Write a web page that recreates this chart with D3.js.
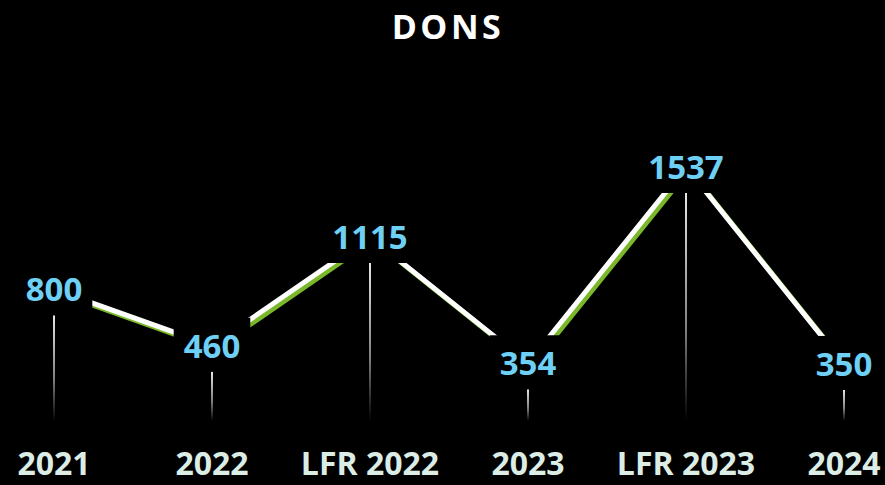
<!DOCTYPE html>
<html>
<head>
<meta charset="utf-8">
<script src="https://cdn.jsdelivr.net/npm/d3@7"></script>
<style>
  html, body { margin: 0; padding: 0; background: #000; }
  svg { display: block; }
</style>
</head>
<body>
<svg id="chart" width="885" height="485"></svg>
<script>
'use strict';

const categories = ['2021', '2022', 'LFR 2022', '2023', 'LFR 2023', '2024'];
const dons = [800, 460, 1115, 354, 1537, 350];

const width = 885;
const height = 485;

const svg = d3.select('#chart');

svg.append('rect')
    .attr('width', width)
    .attr('height', height)
    .attr('fill', '#000');

const x = d3.scalePoint()
    .domain(categories)
    .range([54, 844]);

const y = d3.scaleLinear()
    .domain([0, 1537])
    .range([422, 167]);

const data = categories.map((c, i) => ({ cat: c, value: dons[i] }));

// gradient for drop lines
const grad = svg.append('defs').append('linearGradient')
    .attr('id', 'dropGrad')
    .attr('x1', 0).attr('y1', 0)
    .attr('x2', 0).attr('y2', 1);
grad.append('stop').attr('offset', '0%').attr('stop-color', '#e6e6e6');
grad.append('stop').attr('offset', '60%').attr('stop-color', '#808080');
grad.append('stop').attr('offset', '100%').attr('stop-color', '#000');

// title
svg.append('text')
    .attr('x', 448)
    .attr('y', 39)
    .attr('text-anchor', 'middle')
    .attr('fill', '#fff')
    .style('font-family', '"Open Sans", sans-serif')
    .style('font-weight', 700)
    .style('font-size', '34px')
    .style('letter-spacing', '3.5px')
    .text('DONS');

const line = d3.line()
    .x(d => x(d.cat))
    .y(d => y(d.value));

// green shadow
svg.append('path')
    .datum(data)
    .attr('d', line)
    .attr('transform', 'translate(3,3)')
    .attr('fill', 'none')
    .attr('stroke', '#7ab82a')
    .attr('stroke-width', 5);

svg.append('path')
    .datum(data)
    .attr('d', line)
    .attr('fill', 'none')
    .attr('stroke', '#fff')
    .attr('stroke-width', 5);

// drop lines
svg.selectAll('.drop')
    .data(data).enter().append('rect')
    .attr('class', 'drop')
    .attr('x', d => x(d.cat) - 1)
    .attr('y', d => y(d.value) + 26)
    .attr('width', 2)
    .attr('height', d => y(0) - 1 - (y(d.value) + 26))
    .attr('fill', 'url(#dropGrad)');

// label boxes hide the line behind the values
const labels = svg.selectAll('.lab')
    .data(data).enter().append('g')
    .attr('class', 'lab')
    .attr('transform', d => 'translate(' + x(d.cat) + ',' + y(d.value) + ')');

labels.append('text')
    .attr('text-anchor', 'middle')
    .attr('y', 12)
    .attr('fill', '#6fd0f6')
    .style('font-family', '"Open Sans", sans-serif')
    .style('font-weight', 700)
    .style('font-size', '33px')
    .text(d => d.value);

labels.insert('rect', 'text')
    .each(function () {
        const t = d3.select(this.parentNode).select('text').node();
        const w = t.getComputedTextLength();
        d3.select(this)
            .attr('x', -w / 2 - 10)
            .attr('y', -28)
            .attr('width', w + 20)
            .attr('height', 54)
            .attr('fill', '#000');
    });

// category labels
svg.selectAll('.cat')
    .data(categories).enter().append('text')
    .attr('class', 'cat')
    .attr('x', d => x(d))
    .attr('y', 475)
    .attr('text-anchor', 'middle')
    .attr('fill', '#dcede5')
    .style('font-family', '"Open Sans", sans-serif')
    .style('font-weight', 700)
    .style('font-size', '32px')
    .text(d => d);
</script>
</body>
</html>
